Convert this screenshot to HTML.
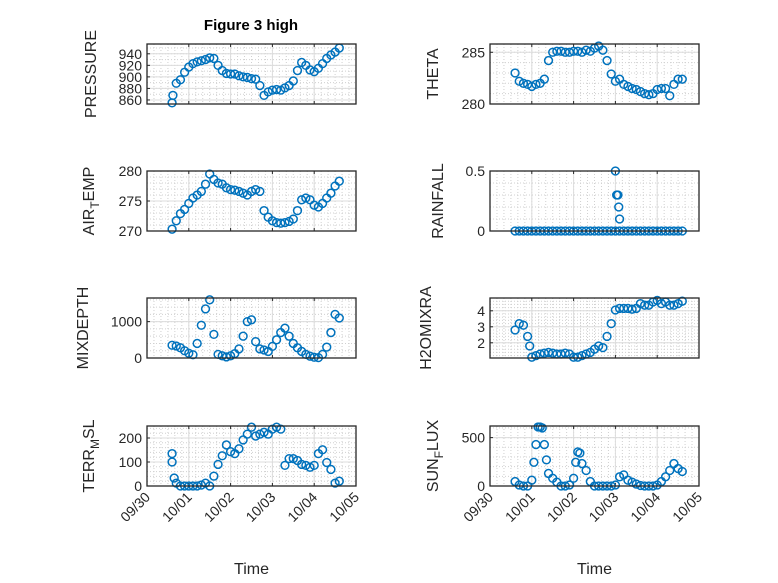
<!DOCTYPE html>
<html><head><meta charset="utf-8"><style>
body{margin:0;background:#fff}
svg{display:block;font-family:"Liberation Sans",sans-serif}
</style></head><body>
<svg id="fig" width="778" height="583" viewBox="0 0 778 583" xmlns="http://www.w3.org/2000/svg">
<rect width="778" height="583" fill="#fff"/>
<text x="251" y="30" text-anchor="middle" font-weight="bold" font-size="15" fill="#000">Figure 3 high</text>
</svg>
<script>
const dayTicks = ["09/30","10/01","10/02","10/03","10/04","10/05"];
const T41 = [0.6,0.7,0.8,0.9,1.0,1.1,1.2,1.3,1.4,1.5,1.6,1.7,1.8,1.9,2.0,2.1,2.2,2.3,2.4,2.5,2.6,2.7,2.8,2.9,3.0,3.1,3.2,3.3,3.4,3.5,3.6,3.7,3.8,3.9,4.0,4.1,4.2,4.3,4.4,4.5,4.6];
const pressureTimes = [0.6,0.62].concat(T41.slice(1));
const pressureVals = [855,868,889,895,908,917,923,926,928,930,933,932,920,911,906,905,905,902,900,899,897,896,885,868,874,877,878,877,881,885,893,911,925,920,912,909,915,923,932,938,943,950];
const thetaTimes = T41;
const thetaVals = [283.0,282.2,282.0,281.9,281.7,281.9,282.0,282.4,284.2,285.0,285.1,285.1,285.0,285.0,285.1,285.1,285.0,285.2,285.1,285.4,285.6,285.2,284.2,282.9,282.2,282.4,281.9,281.7,281.5,281.4,281.2,281.0,280.9,281.0,281.4,281.5,281.5,280.8,281.9,282.4,282.4];
const airTimes = T41;
const airVals = [270.3,271.7,272.9,273.6,274.6,275.5,276.0,276.6,277.8,279.5,278.6,278.0,277.8,277.2,276.9,276.8,276.6,276.3,276.0,276.6,276.9,276.6,273.4,272.3,271.7,271.4,271.3,271.4,271.6,272.0,273.4,275.2,275.5,275.2,274.3,274.0,274.6,275.5,276.3,277.5,278.3];
const rainTimes = T41.concat([3.0,3.03,3.06,3.08,3.1]);
const rainVals = T41.map(()=>0).concat([0.5,0.3,0.3,0.2,0.1]);
const mixTimes = T41;
const mixVals = [350,330,280,200,130,90,400,900,1350,1600,650,100,60,30,60,120,250,600,1000,1050,450,250,220,180,320,500,700,820,600,400,280,180,100,50,20,10,100,300,700,1200,1100];
const h2oTimes = [0.6,0.7,0.8,0.9,0.95].concat(T41.slice(4));
const h2oVals = [2.8,3.2,3.1,2.4,1.8,1.1,1.2,1.3,1.35,1.4,1.35,1.3,1.3,1.35,1.3,1.1,1.1,1.2,1.3,1.4,1.6,1.8,1.7,2.4,3.2,4.05,4.15,4.15,4.15,4.1,4.15,4.45,4.35,4.35,4.55,4.65,4.45,4.55,4.35,4.35,4.45,4.6];
const terrTimes = [0.6,0.6,0.65].concat(T41.slice(1));
const terrVals = [135,100,33,12,0,0,0,0,0,4,12,0,41,90,126,171,143,135,155,192,216,245,208,216,224,216,237,245,237,86,114,114,106,90,86,78,86,135,151,98,69,12,20];
const sunTimes = [0.6,0.7,0.8,0.9,1.0,1.05,1.1,1.15,1.2,1.25,1.3,1.35,1.4,1.5,1.6,1.7,1.8,1.9,2.0,2.05,2.1,2.15,2.2,2.3,2.4,2.5,2.6,2.7,2.8,2.9,3.0,3.1,3.2,3.3,3.4,3.5,3.6,3.7,3.8,3.9,4.0,4.1,4.2,4.3,4.4,4.5,4.6];
const sunVals = [46,10,0,0,60,245,428,610,610,600,428,270,130,80,40,0,0,10,80,245,352,340,232,160,46,0,0,0,0,0,10,95,115,60,40,20,5,0,0,0,10,46,95,160,232,180,150];

const NS = "http://www.w3.org/2000/svg";
const svg = document.getElementById('fig');
function mk(tag, attrs, parent){const e=document.createElementNS(NS,tag);for(const k in attrs)e.setAttribute(k,attrs[k]);(parent||svg).appendChild(e);return e;}

const axesDefs = [
 {name:'pressure',label:'PRESSURE',col:0,row:0,ymin:853,ymax:957,ticks:[860,880,900,920,940],minor:10,times:pressureTimes,vals:pressureVals,lx:90},
 {name:'theta',label:'THETA',col:1,row:0,ymin:280,ymax:285.8,ticks:[280,285],minor:1,times:thetaTimes,vals:thetaVals,lx:432},
 {name:'air-temp',label:'AIR',sub:'T',rest:'EMP',col:0,row:1,ymin:270,ymax:280,ticks:[270,275,280],minor:1,times:airTimes,vals:airVals,lx:88},
 {name:'rainfall',label:'RAINFALL',col:1,row:1,ymin:0,ymax:0.5,ticks:[0,0.5],minor:0.1,times:rainTimes,vals:rainVals,lx:437},
 {name:'mixdepth',label:'MIXDEPTH',col:0,row:2,ymin:0,ymax:1650,ticks:[0,1000],minor:200,times:mixTimes,vals:mixVals,lx:82},
 {name:'h2omixra',label:'H2OMIXRA',col:1,row:2,ymin:1.05,ymax:4.8,ticks:[2,3,4],minor:0.2,times:h2oTimes,vals:h2oVals,lx:425},
 {name:'terr-msl',label:'TERR',sub:'M',rest:'SL',col:0,row:3,ymin:0,ymax:250,ticks:[0,100,200],minor:20,times:terrTimes,vals:terrVals,lx:88},
 {name:'sun-flux',label:'SUN',sub:'F',rest:'LUX',col:1,row:3,ymin:0,ymax:620,ticks:[0,500],minor:100,times:sunTimes,vals:sunVals,lx:432}
];
const colX=[147,490], W=209, rowY=[44,171,298,426], H=60;

axesDefs.forEach(a=>{
 const g=mk('g',{});
 
 
 const x0=colX[a.col], y0=rowY[a.row];
 const sx=t=>x0+t*W/5;
 const sy=v=>y0+H-(v-a.ymin)/(a.ymax-a.ymin)*H;
 for(let d=0;d<=5.0001;d+=1/6){
  const x=sx(d); if(x>x0+W-0.5) break;
  mk('line',{x1:x,x2:x,y1:y0,y2:y0+H,stroke:'#d0d0d0','stroke-width':1,'stroke-dasharray':'1 2'},g);
 }
 const m0=Math.ceil(a.ymin/a.minor)*a.minor;
 for(let v=m0; v<=a.ymax+1e-9; v+=a.minor){
  const y=sy(v);
  mk('line',{x1:x0,x2:x0+W,y1:y,y2:y,stroke:'#d0d0d0','stroke-width':1,'stroke-dasharray':'1 2'},g);
 }
 for(let d=1;d<5;d++){const x=sx(d);mk('line',{x1:x,x2:x,y1:y0,y2:y0+H,stroke:'#dcdcdc','stroke-width':1},g);
  mk('line',{x1:x,x2:x,y1:y0+H,y2:y0+H-3,stroke:'#262626'},g);mk('line',{x1:x,x2:x,y1:y0,y2:y0+3,stroke:'#262626'},g);}
 a.ticks.forEach(v=>{
  const y=sy(v);
  mk('line',{x1:x0,x2:x0+W,y1:y,y2:y,stroke:'#dcdcdc','stroke-width':1},g);
  mk('line',{x1:x0,x2:x0+3,y1:y,y2:y,stroke:'#262626'},g);
  const t=mk('text',{x:x0-5,y:y+5,'text-anchor':'end','font-size':14,fill:'#262626'},g);
  
  
  t.textContent=String(v);
 });
 a.times.forEach((t,i)=>{
  const c=mk('circle',{cx:sx(t),cy:sy(a.vals[i]),r:3.9,fill:'none',stroke:'#0072BD','stroke-width':1.5},g);
  
  
 });
 mk('rect',{x:x0,y:y0,width:W,height:H,fill:'none',stroke:'#262626','stroke-width':1.3},g);
 const cy=y0+H/2;
 const yl=mk('text',{x:0,y:0,transform:`translate(${a.lx+6},${cy}) rotate(-90)`,'text-anchor':'middle','font-size':16,fill:'#262626'},g);
 
 
 if(a.sub){
  const s1=mk('tspan',{},yl);s1.textContent=a.label;
  const s2=mk('tspan',{dy:5,'font-size':12},yl);s2.textContent=a.sub;
  const s3=mk('tspan',{dy:-5},yl);s3.textContent=a.rest;
 } else yl.textContent=a.label;
 if(a.row===3){
  dayTicks.forEach((lab,d)=>{
   const x=sx(d);
   const t=mk('text',{x:0,y:0,transform:`translate(${x+4},${y0+H+12}) rotate(-45)`,'text-anchor':'end','font-size':14,fill:'#262626'},g);
   
   
   t.textContent=lab;
  });
  const xl=mk('text',{x:x0+W/2,y:574,'text-anchor':'middle','font-size':16,fill:'#262626'},g);
  
  
  xl.textContent='Time';
 }
});
</script>
</body></html>
